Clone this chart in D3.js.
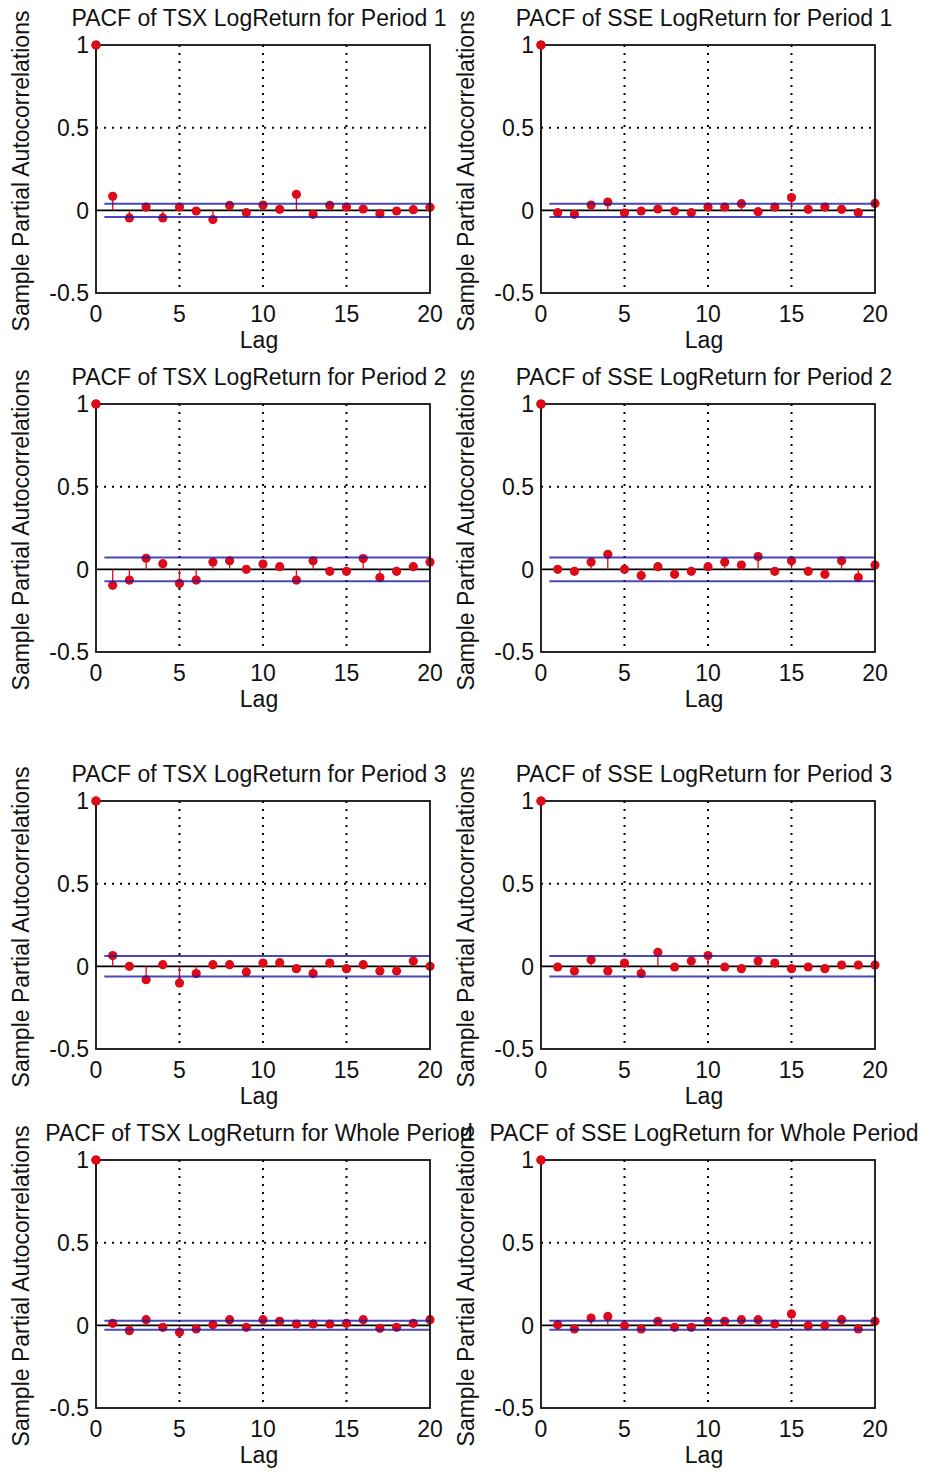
<!DOCTYPE html>
<html>
<head>
<meta charset="utf-8">
<script src="https://cdn.jsdelivr.net/npm/d3@7"></script>
<style>
  html, body { margin: 0; padding: 0; background: #fff; }
  svg text { font-family: "Liberation Sans", Arial, sans-serif; fill: #111; }
</style>
</head>
<body>
<svg id="chart" width="929" height="1477"></svg>
<script>
const lags = d3.range(0, 21);
const xTicks = [0, 5, 10, 15, 20];
const yTicks = [-0.5, 0, 0.5, 1];

const titles = [
  'PACF of TSX LogReturn for Period 1', 'PACF of SSE LogReturn for Period 1',
  'PACF of TSX LogReturn for Period 2', 'PACF of SSE LogReturn for Period 2',
  'PACF of TSX LogReturn for Period 3', 'PACF of SSE LogReturn for Period 3',
  'PACF of TSX LogReturn for Whole Period', 'PACF of SSE LogReturn for Whole Period'
];

// lag 0 .. 20
const tsxP1 = [1, 0.085, -0.046, 0.020, -0.046, 0.020, -0.004, -0.056, 0.030, -0.014, 0.032,
  0.006, 0.097, -0.024, 0.030, 0.020, 0.008, -0.020, -0.004, 0.004, 0.018];
const sseP1 = [1, -0.014, -0.024, 0.032, 0.050, -0.016, -0.004, 0.008, -0.004, -0.014, 0.020,
  0.020, 0.040, -0.008, 0.020, 0.077, 0.006, 0.020, 0.006, -0.014, 0.042];
const tsxP2 = [1, -0.097, -0.065, 0.067, 0.034, -0.085, -0.065, 0.044, 0.052, 0.000, 0.032,
  0.016, -0.065, 0.052, -0.012, -0.012, 0.065, -0.050, -0.012, 0.016, 0.044];
const sseP2 = [1, 0.000, -0.012, 0.044, 0.091, 0.000, -0.038, 0.016, -0.030, -0.012, 0.016,
  0.044, 0.026, 0.077, -0.012, 0.052, -0.012, -0.030, 0.052, -0.050, 0.026];
const tsxP3 = [1, 0.065, 0.000, -0.081, 0.010, -0.101, -0.044, 0.010, 0.010, -0.034, 0.020,
  0.022, -0.014, -0.044, 0.020, -0.014, 0.010, -0.028, -0.028, 0.032, 0.000];
const sseP3 = [1, -0.004, -0.028, 0.040, -0.028, 0.020, -0.044, 0.085, -0.004, 0.032, 0.065,
  -0.004, -0.014, 0.032, 0.020, -0.014, -0.004, -0.014, 0.008, 0.008, 0.008];
const tsxWhole = [1, 0.012, -0.032, 0.034, -0.012, -0.042, -0.022, 0.004, 0.034, -0.012, 0.034,
  0.024, 0.008, 0.008, 0.008, 0.012, 0.034, -0.018, -0.012, 0.012, 0.034];
const sseWhole = [1, 0.004, -0.022, 0.044, 0.054, -0.002, -0.022, 0.024, -0.012, -0.012, 0.024,
  0.024, 0.034, 0.034, 0.008, 0.069, -0.002, -0.002, 0.034, -0.022, 0.024];

// confidence bounds per row (period 1, 2, 3, whole)
const bounds = [0.040, 0.072, 0.062, 0.027];

const series = [tsxP1, sseP1, tsxP2, sseP2, tsxP3, sseP3, tsxWhole, sseWhole];

const colX = [96, 541];
const rowY = [45, 404, 801, 1160];
const W = 334;
const H = 248;
const FS = 23;
const RED = '#dd0a18';

const svg = d3.select('#chart');

series.forEach((values, i) => {
  const row = Math.floor(i / 2);
  const col = i % 2;
  const x0 = colX[col];
  const y0 = rowY[row];
  const bound = bounds[row];

  const x = d3.scaleLinear().domain([0, 20]).range([x0, x0 + W]);
  const y = d3.scaleLinear().domain([-0.5, 1]).range([y0 + H, y0]);

  const g = svg.append('g').attr('class', 'panel');

  // grid
  g.selectAll('.vgrid').data(xTicks.slice(1, -1)).enter().append('line')
    .attr('x1', d => x(d)).attr('x2', d => x(d))
    .attr('y1', y0).attr('y2', y0 + H)
    .attr('stroke', '#000').attr('stroke-width', 2)
    .attr('stroke-dasharray', '2,6');
  g.selectAll('.hgrid').data([0.5]).enter().append('line')
    .attr('x1', x0).attr('x2', x0 + W)
    .attr('y1', d => y(d)).attr('y2', d => y(d))
    .attr('stroke', '#000').attr('stroke-width', 2)
    .attr('stroke-dasharray', '2,6');

  // zero line
  g.append('line')
    .attr('x1', x0).attr('x2', x0 + W)
    .attr('y1', y(0)).attr('y2', y(0))
    .attr('stroke', '#000').attr('stroke-width', 1.6);

  // stems
  const pts = lags.map(l => ({ lag: l, v: values[l] }));
  g.selectAll('.stem').data(pts).enter().append('line')
    .attr('x1', d => x(d.lag)).attr('x2', d => x(d.lag))
    .attr('y1', y(0)).attr('y2', d => y(d.v))
    .attr('stroke', RED).attr('stroke-width', 1.3);
  g.selectAll('.mark').data(pts).enter().append('circle')
    .attr('cx', d => x(d.lag)).attr('cy', d => y(d.v))
    .attr('r', 4.6)
    .attr('fill', RED);

  // confidence bounds
  [bound, -bound].forEach(b => {
    g.append('line')
      .attr('x1', x(0.5)).attr('x2', x(20))
      .attr('y1', y(b)).attr('y2', y(b))
      .attr('stroke', '#1a1aa8').attr('stroke-width', 2)
      .attr('stroke-opacity', 0.8);
  });

  // box
  g.append('rect')
    .attr('x', x0).attr('y', y0).attr('width', W).attr('height', H)
    .attr('fill', 'none').attr('stroke', '#111').attr('stroke-width', 1.8);

  // lag 0 marker on top of the frame
  g.append('circle')
    .attr('cx', x(0)).attr('cy', y(values[0])).attr('r', 4.6)
    .attr('fill', RED);

  // tick labels
  g.selectAll('.xt').data(xTicks).enter().append('text')
    .attr('x', d => x(d)).attr('y', y0 + H + 29)
    .attr('text-anchor', 'middle')
    .attr('font-size', FS)
    .text(d => d);
  g.selectAll('.yt').data(yTicks).enter().append('text')
    .attr('x', x0 - 7).attr('y', d => y(d))
    .attr('dy', '0.36em')
    .attr('text-anchor', 'end')
    .attr('font-size', FS)
    .text(d => d);

  // labels
  g.append('text')
    .attr('x', x0 + W / 2 - 4).attr('y', y0 + H + 55)
    .attr('text-anchor', 'middle')
    .attr('font-size', FS)
    .text('Lag');
  g.append('text')
    .attr('transform', `translate(${x0 - 67},${y0 + H / 2 + 2}) rotate(-90)`)
    .attr('text-anchor', 'middle')
    .attr('font-size', FS)
    .text('Sample Partial Autocorrelations');
  g.append('text')
    .attr('x', x0 + W / 2 - 4).attr('y', y0 - 19)
    .attr('text-anchor', 'middle')
    .attr('font-size', FS)
    .text(titles[i]);
});
</script>
</body>
</html>
